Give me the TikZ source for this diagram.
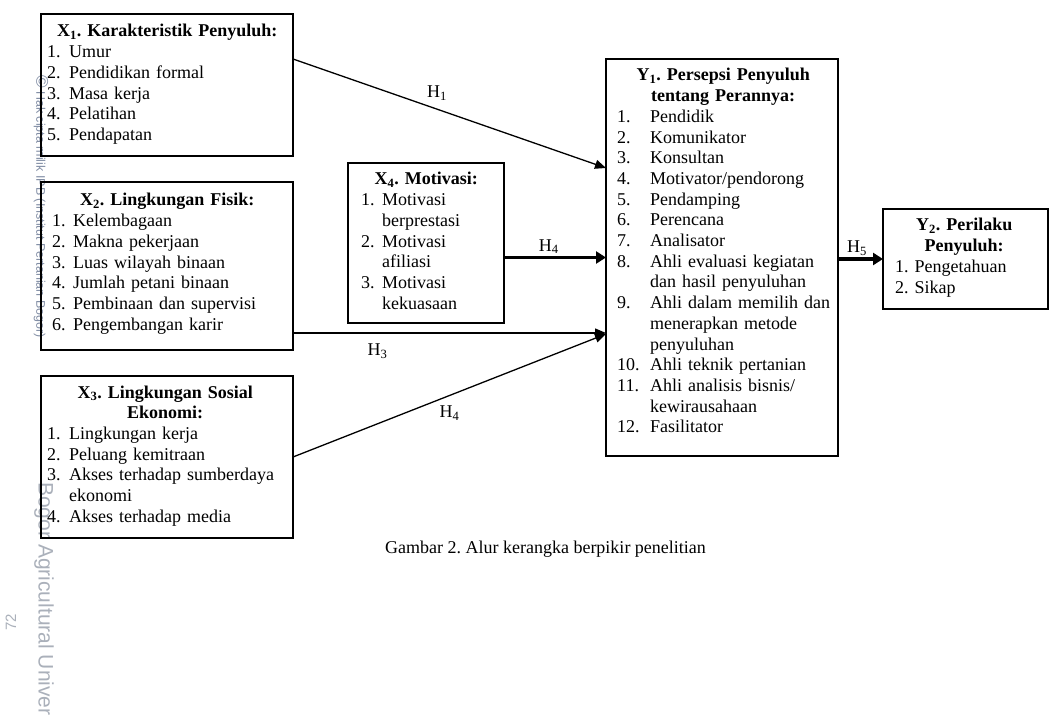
\documentclass[tikz,border=0pt]{standalone}
\usepackage{fontspec}
\setmainfont{Liberation Serif}
\setsansfont{Liberation Sans}
\usetikzlibrary{arrows.meta}
\frenchspacing
\definecolor{wmbiru}{RGB}{130,142,165}
\definecolor{wmabu}{RGB}{170,176,186}
\newcommand{\butir}[3][22pt]{\par\noindent\makebox[#1][l]{#2}\mbox{#3}}
\newcommand{\lanjut}[2][22pt]{\par\noindent\hspace*{#1}\mbox{#2}}
\tikzset{
  kotak/.style={draw, line width=1.3pt, inner sep=0pt, outer sep=0pt},
  isi/.style={anchor=base west, inner sep=0pt, align=left, text width=#1},
  panah/.style={line width=1.3pt, -{Triangle[length=11pt,width=9pt]}},
  panahtebal/.style={line width=3.6pt, -{Triangle[length=10pt,width=12pt]}},
  hlabel/.style={inner sep=2pt},
  tanda/.style={inner sep=0pt, font=\sffamily}
}
\begin{document}
\begin{tikzpicture}[x=1pt, y=-1pt, font=\fontsize{18}{20.7}\selectfont]
\useasboundingbox (0,0) rectangle (1062,719);

% watermark
\node[tanda, wmbiru, rotate=-90, anchor=west, font=\sffamily\fontsize{12.5}{14}\selectfont] (hak) at (41,75) {{\fontsize{17}{17}\selectfont\textcopyright} Hak cipta milik IPB (Institut Pertanian Bogor)};
\node[tanda, wmabu, rotate=-90, anchor=west, font=\sffamily\fontsize{21}{24}\selectfont] (bogor) at (44,482) {Bogor Agricultural Univer};
\node[tanda, wmabu, rotate=90, font=\sffamily\fontsize{15}{16}\selectfont] (hal) at (11,622) {72};

% kotak
\node[kotak, minimum width=252pt, minimum height=142pt] (x1) at (167,85) {};
\node[isi=240pt] (x1t) at (47,37) {{\centering\textbf{X\textsubscript{1}. Karakteristik Penyuluh:}\par}
\butir{1.}{Umur}
\butir{2.}{Pendidikan formal}
\butir{3.}{Masa kerja}
\butir{4.}{Pelatihan}
\butir{5.}{Pendapatan}};

\node[kotak, minimum width=252pt, minimum height=168pt] (x2) at (167,266) {};
\node[isi=230pt] (x2t) at (52,206) {{\centering\textbf{X\textsubscript{2}. Lingkungan Fisik:}\par}
\butir[21pt]{1.}{Kelembagaan}
\butir[21pt]{2.}{Makna pekerjaan}
\butir[21pt]{3.}{Luas wilayah binaan}
\butir[21pt]{4.}{Jumlah petani binaan}
\butir[21pt]{5.}{Pembinaan dan supervisi}
\butir[21pt]{6.}{Pengembangan karir}};

\node[kotak, minimum width=252pt, minimum height=162pt] (x3) at (167,457) {};
\node[isi=236pt] (x3t) at (47,398) {{\centering\textbf{X\textsubscript{3}. Lingkungan Sosial}\par\textbf{Ekonomi:}\par}
\butir{1.}{Lingkungan kerja}
\butir{2.}{Peluang kemitraan}
\butir{3.}{Akses terhadap sumberdaya}
\lanjut{ekonomi}
\butir{4.}{Akses terhadap media}};

\node[kotak, minimum width=156pt, minimum height=160pt] (x4) at (426,243) {};
\node[isi=130pt] (x4t) at (361,185) {{\centering\textbf{X\textsubscript{4}. Motivasi:}\par}
\butir[21pt]{1.}{Motivasi}
\lanjut[21pt]{berprestasi}
\butir[21pt]{2.}{Motivasi}
\lanjut[21pt]{afiliasi}
\butir[21pt]{3.}{Motivasi}
\lanjut[21pt]{kekuasaan}};

\node[kotak, minimum width=232pt, minimum height=397pt] (y1) at (722,257.5) {};
\node[isi=212pt] (y1t) at (617,81) {{\centering\textbf{Y\textsubscript{1}. Persepsi Penyuluh}\par\textbf{tentang Perannya:}\par}
\butir[33pt]{1.}{Pendidik}
\butir[33pt]{2.}{Komunikator}
\butir[33pt]{3.}{Konsultan}
\butir[33pt]{4.}{Motivator/pendorong}
\butir[33pt]{5.}{Pendamping}
\butir[33pt]{6.}{Perencana}
\butir[33pt]{7.}{Analisator}
\butir[33pt]{8.}{Ahli evaluasi kegiatan}
\lanjut[33pt]{dan hasil penyuluhan}
\butir[33pt]{9.}{Ahli dalam memilih dan}
\lanjut[33pt]{menerapkan metode}
\lanjut[33pt]{penyuluhan}
\butir[33pt]{10.}{Ahli teknik pertanian}
\butir[33pt]{11.}{Ahli analisis bisnis/}
\lanjut[33pt]{kewirausahaan}
\butir[33pt]{12.}{Fasilitator}};

\node[kotak, minimum width=165pt, minimum height=100pt] (y2) at (965.5,259) {};
\node[isi=138pt] (y2t) at (895,231) {{\centering\textbf{Y\textsubscript{2}. Perilaku}\par\textbf{Penyuluh:}\par}
1. Pengetahuan\par
2. Sikap};

% panah
\draw[panah] ([yshift=26pt]x1.east) -- ([yshift=89.5pt]y1.west) node[hlabel, pos=.46, above=6pt] {H\textsubscript{1}};
\draw[panahtebal] (x4.east |- y1.west) -- (y1.west) node[hlabel, pos=.44, above=0pt] {H\textsubscript{4}};
\draw[panah] ([yshift=-67pt]x2.east) -- ([yshift=-75.5pt]y1.west) node[hlabel, pos=.27, below=8pt] {H\textsubscript{3}};
\draw[panah] (x3.east) -- ([yshift=-76.5pt]y1.west) node[hlabel, pos=.5, below=8pt] {H\textsubscript{4}};
\draw[panahtebal] (y1.east |- y2.west) -- (y2.west) node[hlabel, pos=.42, above=0pt] {H\textsubscript{5}};

\node (judul) at (545.5,553) [anchor=base] {Gambar 2. Alur kerangka berpikir penelitian};
\end{tikzpicture}
\end{document}
